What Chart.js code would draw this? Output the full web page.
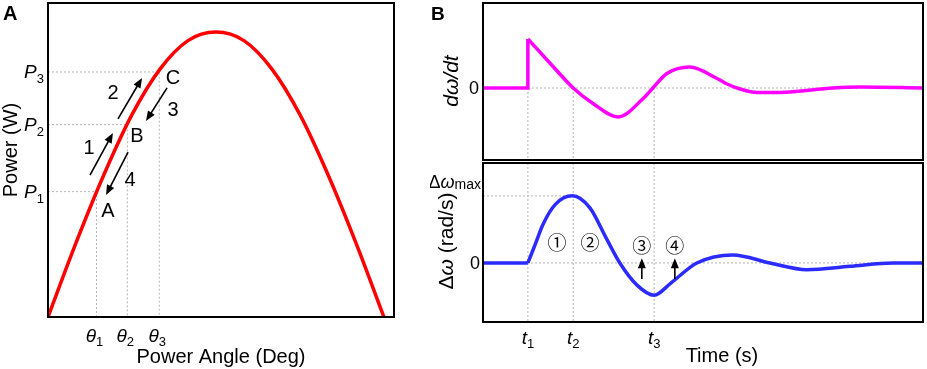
<!DOCTYPE html>
<html>
<head>
<meta charset="utf-8">
<script src="https://cdn.jsdelivr.net/npm/chart.js@4"></script>
<style>
  body { margin: 0; background: #fff; }
  #wrap { position: relative; width: 927px; height: 369px; }
  canvas { position: absolute; }
</style>
</head>
<body>
<div id="wrap">
  <canvas id="chartA" width="420" height="369" style="left:0;top:0"></canvas>
  <canvas id="chartB1" width="497" height="162" style="left:430px;top:0"></canvas>
  <canvas id="chartB2" width="497" height="207" style="left:430px;top:162px"></canvas>
</div>
<script>
// ---- panel A: power-angle curve ----
const angleDeg = [0, 15, 30, 45, 60, 75, 90, 105, 120, 135, 150, 165, 180];
const powerW = [0, 0.26, 0.5, 0.71, 0.87, 0.97, 1.0, 0.97, 0.87, 0.71, 0.5, 0.26, 0];
const thetaDeg = [26, 42.5, 59.6];
const opPower = [0.44, 0.675, 0.86];
const opSubs = ['1', '2', '3'];

// ---- panel B top: dω/dt ----
const timeStep = [0, 10.2, 10.2];
const dwdtStep = [0, 0, 0.98];
const timeDwdt = [10.2, 15.3, 20.5, 25.0, 30.7, 36.4, 38.6, 41.8, 47.0, 53.2, 55.5, 57.7, 62.3, 67.5, 79.5, 85.7, 100];
const dwdt = [0.98, 0.49, 0, -0.31, -0.58, -0.21, 0, 0.29, 0.42, 0.19, 0.08, 0, -0.09, -0.09, 0, 0.02, 0];

// ---- panel B bottom: Δω ----
const timeFlat = [0, 10.2];
const dOmegaFlat = [0, 0];
const timeOmega = [10.2, 12, 13.6, 16.4, 20.3, 24.3, 28, 31.1, 35, 38.9, 42.7, 48.6, 56.8, 65.2, 73.6, 83.4, 93.2, 100];
const dOmega = [0, 0.3, 0.57, 0.87, 1.0, 0.82, 0.37, 0, -0.33, -0.48, -0.3, 0, 0.12, 0, -0.1, -0.05, 0, 0];
const tMarks = [10.2, 20.5, 38.9];
const tSubs = ['1', '2', '3'];

// annotations (data units)
const arrowsA = [
  {from: [22.5, 0.498], to: [34.8, 0.646], text: '1', at: [22.0, 0.596]},
  {from: [37.5, 0.695], to: [50.4, 0.839], text: '2', at: [34.8, 0.789]},
  {from: [63.8, 0.804], to: [52.5, 0.688], text: '3', at: [67.0, 0.730]},
  {from: [42.9, 0.579], to: [31.1, 0.428], text: '4', at: [44.0, 0.484]},
];
const pointsA = [
  {text: 'A', at: [32.1, 0.375]},
  {text: 'B', at: [47.7, 0.639]},
  {text: 'C', at: [67.0, 0.842]},
];
const stagesB = [
  {text: '①', at: [16.8, 0.30]},
  {text: '②', at: [24.3, 0.30]},
  {text: '③', at: [36.1, 0.25], arrow: [-0.24, 0.07]},
  {text: '④', at: [43.6, 0.25], arrow: [-0.24, 0.07]},
];

const FONT = "'Liberation Sans', Arial, sans-serif";
const GUIDE = '#b4b4b4';
const xy = (xs, ys) => xs.map((x, i) => ({x: x, y: ys[i]}));

function guide(points) {
  return {data: points, borderColor: GUIDE, borderWidth: 1, borderDash: [2, 2],
    tension: 0, order: 2, pointRadius: 0};
}
function curve(points, color, smooth) {
  return {data: points, borderColor: color, borderWidth: 3.5, order: 0, pointRadius: 0,
    tension: smooth ? 0.4 : 0, cubicInterpolationMode: smooth ? 'monotone' : 'default',
    borderJoinStyle: 'miter'};
}

function baseOptions(xmin, xmax, ymin, ymax, pad) {
  return {
    responsive: false, animation: false, devicePixelRatio: 1,
    layout: {padding: pad},
    plugins: {legend: {display: false}, tooltip: {enabled: false}},
    scales: {
      x: {type: 'linear', display: false, min: xmin, max: xmax},
      y: {type: 'linear', display: false, min: ymin, max: ymax},
    },
  };
}

// text with subscripts: parts = [text, font, dy]
function drawRich(ctx, parts, x, y, align) {
  let w = 0;
  parts.forEach((p) => { ctx.font = p[1]; w += ctx.measureText(p[0]).width; });
  let cx = align === 'center' ? x - w / 2 : (align === 'right' ? x - w : x);
  ctx.textAlign = 'left';
  ctx.textBaseline = 'alphabetic';
  parts.forEach((p) => {
    ctx.font = p[1];
    ctx.fillText(p[0], cx, y + (p[2] || 0));
    cx += ctx.measureText(p[0]).width;
  });
}

function drawArrow(ctx, x1, y1, x2, y2) {
  const a = Math.atan2(y2 - y1, x2 - x1);
  const L = 10, W = 4;
  ctx.save();
  ctx.strokeStyle = '#000';
  ctx.fillStyle = '#000';
  ctx.lineWidth = 1.6;
  ctx.beginPath();
  ctx.moveTo(x1, y1);
  ctx.lineTo(x2 - L * 0.7 * Math.cos(a), y2 - L * 0.7 * Math.sin(a));
  ctx.stroke();
  ctx.beginPath();
  ctx.moveTo(x2, y2);
  ctx.lineTo(x2 - L * Math.cos(a) + W * Math.sin(a), y2 - L * Math.sin(a) - W * Math.cos(a));
  ctx.lineTo(x2 - L * Math.cos(a) - W * Math.sin(a), y2 - L * Math.sin(a) + W * Math.cos(a));
  ctx.closePath();
  ctx.fill();
  ctx.restore();
}

function drawBox(chart) {
  const {ctx, chartArea: c} = chart;
  ctx.save();
  ctx.strokeStyle = '#000';
  ctx.lineWidth = 2;
  ctx.strokeRect(c.left, c.top, c.right - c.left, c.bottom - c.top);
  ctx.restore();
}

// ================= Panel A =================
const guidesA = thetaDeg.map((t, i) => guide([{x: 0, y: opPower[i]}, {x: t, y: opPower[i]}, {x: t, y: 0}]));

new Chart(document.getElementById('chartA'), {
  type: 'line',
  data: {datasets: [curve(xy(angleDeg, powerW), '#ff0000', true)].concat(guidesA)},
  options: baseOptions(0, 185.4, 0, 1.102, {left: 48, top: 3, right: 26, bottom: 52}),
  plugins: [{
    id: 'panelA',
    afterDraw(chart) {
      const ctx = chart.ctx;
      const xs = chart.scales.x, ys = chart.scales.y;
      const c = chart.chartArea;
      drawBox(chart);
      ctx.save();
      ctx.fillStyle = '#000';
      drawRich(ctx, [['A', 'bold 20px ' + FONT]], 3, 20, 'left');
      opPower.forEach((p, i) => {
        const y = ys.getPixelForValue(p);
        drawRich(ctx, [['P', 'italic 19px ' + FONT, 0], [opSubs[i], '13px ' + FONT, 5]], 44, y + 6, 'right');
      });
      thetaDeg.forEach((t, i) => {
        const x = xs.getPixelForValue(t);
        drawRich(ctx, [['θ', 'italic 19px ' + FONT, 0], [opSubs[i], '13px ' + FONT, 4]], x - 2, c.bottom + 25, 'center');
      });
      drawRich(ctx, [['Power Angle (Deg)', '20px ' + FONT]], (c.left + c.right) / 2, c.bottom + 46, 'center');
      ctx.save();
      ctx.translate(17, (c.top + c.bottom) / 2 - 10);
      ctx.rotate(-Math.PI / 2);
      drawRich(ctx, [['Power (W)', '20px ' + FONT]], 0, 0, 'center');
      ctx.restore();
      arrowsA.forEach((a) => {
        drawArrow(ctx, xs.getPixelForValue(a.from[0]), ys.getPixelForValue(a.from[1]),
            xs.getPixelForValue(a.to[0]), ys.getPixelForValue(a.to[1]));
        drawRich(ctx, [[a.text, '20px ' + FONT]], xs.getPixelForValue(a.at[0]), ys.getPixelForValue(a.at[1]) + 7, 'center');
      });
      pointsA.forEach((p) => {
        drawRich(ctx, [[p.text, '20px ' + FONT]], xs.getPixelForValue(p.at[0]), ys.getPixelForValue(p.at[1]) + 7, 'center');
      });
      ctx.restore();
    },
  }],
});

// ================= Panel B top =================
const guidesB1 = [guide([{x: tMarks[0], y: 0}, {x: 100, y: 0}])]
  .concat(tMarks.map((t) => guide([{x: t, y: 0}, {x: t, y: -1.44}])));

new Chart(document.getElementById('chartB1'), {
  type: 'line',
  data: {datasets: [
    curve(xy(timeStep, dwdtStep), '#ff00ff', false),
    curve(xy(timeDwdt, dwdt), '#ff00ff', true),
  ].concat(guidesB1)},
  options: baseOptions(0, 100, -1.44, 1.7, {left: 53, top: 3, right: 4, bottom: 2}),
  plugins: [{
    id: 'panelB1',
    afterDraw(chart) {
      const ctx = chart.ctx;
      const ys = chart.scales.y;
      const y0 = ys.getPixelForValue(0);
      drawBox(chart);
      ctx.save();
      ctx.fillStyle = '#000';
      drawRich(ctx, [['B', 'bold 19px ' + FONT]], 1, 20, 'left');
      drawRich(ctx, [['0', '18px ' + FONT]], 49, y0 + 6, 'right');
      ctx.save();
      ctx.translate(28, y0 - 7);
      ctx.rotate(-Math.PI / 2);
      drawRich(ctx, [['dω/dt', 'italic 21px ' + FONT]], 0, 0, 'center');
      ctx.restore();
      ctx.restore();
    },
  }],
});

// ================= Panel B bottom =================
const guidesB2 = [
  guide([{x: 0, y: 0}, {x: 100, y: 0}]),
  guide([{x: 0, y: 1.0}, {x: tMarks[1], y: 1.0}]),
].concat(tMarks.map((t) => guide([{x: t, y: 1.49}, {x: t, y: -0.88}])));

new Chart(document.getElementById('chartB2'), {
  type: 'line',
  data: {datasets: [
    curve(xy(timeFlat, dOmegaFlat), '#2b2bff', false),
    curve(xy(timeOmega, dOmega), '#2b2bff', true),
  ].concat(guidesB2)},
  options: baseOptions(0, 100, -0.88, 1.49, {left: 53, top: 1, right: 4, bottom: 47}),
  plugins: [{
    id: 'panelB2',
    afterDraw(chart) {
      const ctx = chart.ctx;
      const xs = chart.scales.x, ys = chart.scales.y;
      const c = chart.chartArea;
      const y0 = ys.getPixelForValue(0);
      drawBox(chart);
      ctx.save();
      ctx.fillStyle = '#000';
      drawRich(ctx, [['0', '18px ' + FONT]], 50, y0 + 6, 'right');
      drawRich(ctx, [['Δ', '18px ' + FONT, 0], ['ω', 'italic 18px ' + FONT, 0], ['max', '14px ' + FONT, 1]],
          51, ys.getPixelForValue(1.0) - 8, 'right');
      ctx.save();
      ctx.translate(23, 79);
      ctx.rotate(-Math.PI / 2);
      drawRich(ctx, [['Δ', '21px ' + FONT, 0], ['ω', 'italic 21px ' + FONT, 0], [' (rad/s)', '21px ' + FONT, 0]], 0, 0, 'center');
      ctx.restore();
      tMarks.forEach((t, i) => {
        drawRich(ctx, [['t', 'italic 19px ' + FONT, 0], [tSubs[i], '13px ' + FONT, 4]],
            xs.getPixelForValue(t), c.bottom + 22, 'center');
      });
      drawRich(ctx, [['Time (s)', '20px ' + FONT]], xs.getPixelForValue(54.3), c.bottom + 40, 'center');
      stagesB.forEach((s) => {
        const x = xs.getPixelForValue(s.at[0]);
        drawRich(ctx, [[s.text, "19px 'Noto Sans CJK JP', " + FONT]], x, ys.getPixelForValue(s.at[1]) + 7, 'center');
        if (s.arrow) {
          drawArrow(ctx, x, ys.getPixelForValue(s.arrow[0]), x, ys.getPixelForValue(s.arrow[1]));
        }
      });
      ctx.restore();
    },
  }],
});
</script>
</body>
</html>
